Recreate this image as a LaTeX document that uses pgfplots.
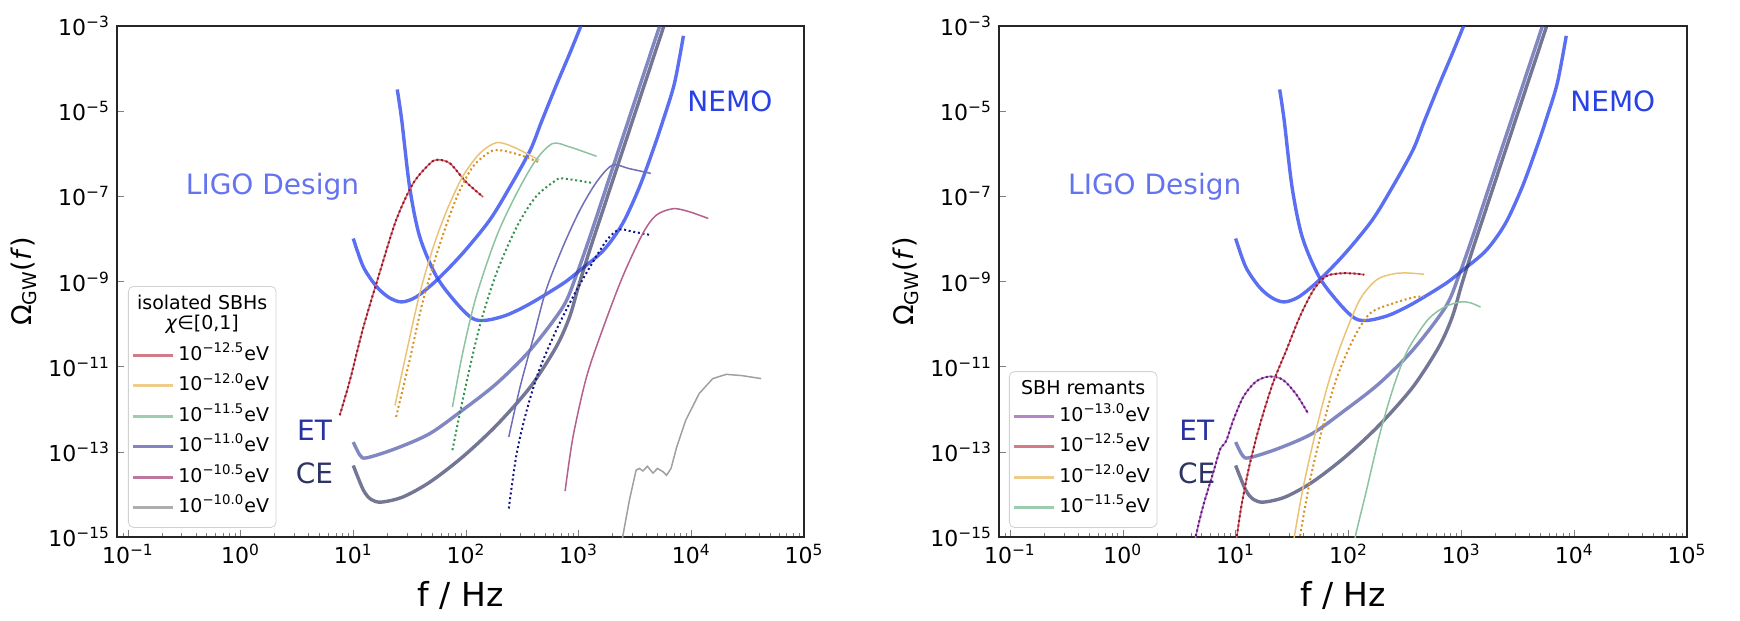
\documentclass[border=0pt]{standalone}
\usepackage{fontspec}
\setmainfont{DejaVu Sans}
\usepackage{pgfplots}
\usepackage{pgfplotstable}
\pgfplotsset{compat=1.18}
\newcommand{\tenp}[1]{10\textsuperscript{#1}}
\definecolor{ligo}{RGB}{50,75,240}
\definecolor{ligotext}{RGB}{100,115,240}
\definecolor{nemotext}{RGB}{40,65,230}
\definecolor{etline}{RGB}{60,70,160}
\definecolor{celine}{RGB}{40,45,90}
\definecolor{ettext}{RGB}{40,50,160}
\definecolor{cetext}{RGB}{45,52,100}
\definecolor{redsol}{RGB}{205,100,115}
\definecolor{reddot}{RGB}{160,20,35}
\definecolor{yelsol}{RGB}{235,195,120}
\definecolor{yeldot}{RGB}{215,145,30}
\definecolor{grnsol}{RGB}{140,195,160}
\definecolor{grndot}{RGB}{50,145,75}
\definecolor{blusol}{RGB}{110,110,185}
\definecolor{bludot}{RGB}{20,20,135}
\definecolor{mauve}{RGB}{180,95,140}
\definecolor{grayl}{RGB}{160,160,160}
\definecolor{pursol}{RGB}{170,110,190}
\definecolor{purdot}{RGB}{110,20,130}
\tikzset{
  ligoline/.style={draw=ligo, draw opacity=0.8, line width=1.7pt, smooth},
  etl/.style={draw=etline, draw opacity=0.65, line width=1.7pt, smooth},
  cel/.style={draw=celine, draw opacity=0.65, line width=1.7pt, smooth},
  sol/.style={draw=#1, line width=0.75pt, smooth},
  dotl/.style={draw=#1, line width=1pt, dash pattern=on 1pt off 1.35pt, smooth},
  legl/.style={draw=#1, line width=1.5pt},
}
\pgfplotstableread{
f O
10 1.023e-8
12.30 2.188e-9
16.22 7.413e-10
20.89 4.169e-10
26.92 3.311e-10
36.31 4.365e-10
54.95 1.072e-9
93.33 4.571e-9
162.2 2.754e-8
245.5 1.660e-7
371.5 1.202e-6
467.7 5.623e-6
631.0 3.981e-5
831.8 2.239e-4
1047 1e-3
1202 2.512e-3
}\tabLIGO
\pgfplotstableread{
f O
24.55 3.236e-5
26.92 6.166e-6
31.62 1.660e-7
38.90 1.122e-8
54.95 1.288e-9
83.18 3.020e-10
114.8 1.349e-10
151.4 1.230e-10
229.1 1.622e-10
371.5 3.020e-10
724.4 8.913e-10
1023 1.820e-9
1660 5.370e-9
2455 2.291e-8
3467 1.660e-7
4677 1.445e-6
5623 6.166e-6
7079 4.467e-5
8511 5.888e-4
}\tabNEMO
\pgfplotstableread{
f O
10 1.698e-13
11.48 8.318e-14
13.18 7.244e-14
23.99 1.202e-13
47.86 2.692e-13
93.33 9.550e-13
186.2 3.981e-12
371.5 2.455e-11
724.4 2.512e-10
955.0 1.413e-9
1259 1.122e-8
1585 7.079e-8
1995 4.467e-7
2512 2.818e-6
3162 1.778e-5
3981 1.122e-4
5012 7.079e-4
5754 2.138e-3
}\tabET
\pgfplotstableread{
f O
10 4.786e-14
12.30 1.259e-14
14.45 7.586e-15
17.78 6.607e-15
27.54 8.710e-15
47.86 1.950e-14
93.33 7.586e-14
186.2 4.169e-13
371.5 3.311e-12
631.0 2.884e-11
831.8 1.479e-10
1000 7.943e-10
1259 5.623e-9
1585 3.548e-8
1995 2.239e-7
2512 1.413e-6
3162 8.913e-6
3981 5.623e-5
5012 3.548e-4
6310 2.239e-3
}\tabCE
\begin{document}
\begin{tikzpicture}
\path[use as bounding box] (-58.5pt,-42pt) rectangle (811.5pt,268.5pt);
% ---------------- left panel ----------------
\begin{axis}[
    width=343.5pt, height=255.5pt, scale only axis,
    xmode=log, ymode=log, xmin=0.08, xmax=1e5, ymin=1e-15, ymax=1e-3,
    xtick={0.1,1,10,100,1000,10000,100000},
    xticklabels={\tenp{−1},\tenp{0},\tenp{1},\tenp{2},\tenp{3},\tenp{4},\tenp{5}},
    minor xtick={0.09,0.2,0.3,0.4,0.5,0.6,0.7,0.8,0.9,2,3,4,5,6,7,8,9,20,30,40,50,60,70,80,90,200,300,400,500,600,700,800,900,2000,3000,4000,5000,6000,7000,8000,9000,20000,30000,40000,50000,60000,70000,80000,90000},
    ytick={1e-15,1e-13,1e-11,1e-9,1e-7,1e-5,1e-3},
    yticklabels={\tenp{−15},\tenp{−13},\tenp{−11},\tenp{−9},\tenp{−7},\tenp{−5},\tenp{−3}},
    tick align=inside, xtick pos=left, ytick pos=left,
    major tick length=3.5pt, minor tick length=2pt,
    axis line style={black!85, line width=0.6pt},
    tick label style={font=\fontsize{11}{13}\selectfont},
    xlabel={f / Hz}, ylabel={Ω\textsubscript{GW}(\textit{f})},
    xlabel style={at={(axis description cs:0.5,-0.1135)}, anchor=center, font=\fontsize{16.5}{18}\selectfont},
    ylabel style={at={(axis description cs:-0.1354,0.5)}, anchor=center, font=\fontsize{13.5}{16}\selectfont},
    legend cell align=left,
    legend style={name=legL, at={(0.016,0.018)}, anchor=south west, draw=black!18, rounded corners=2.5pt, fill=white, font=\fontsize{9.5}{11.5}\selectfont, inner xsep=1.5pt, inner ysep=3pt, row sep=1.2pt, nodes={inner ysep=2pt, text height=7.5pt, text depth=2.5pt}},
  ]
\addlegendimage{empty legend}
\addlegendentry[text height=19.3pt, text depth=0pt]{}
\addlegendimage{legl=redsol!85, legend image code/.code={\draw (0pt,0pt) -- (20pt,0pt);}}\addlegendentry{\tenp{−12.5}eV}
\addlegendimage{legl=yelsol!85, legend image code/.code={\draw (0pt,0pt) -- (20pt,0pt);}}\addlegendentry{\tenp{−12.0}eV}
\addlegendimage{legl=grnsol!85, legend image code/.code={\draw (0pt,0pt) -- (20pt,0pt);}}\addlegendentry{\tenp{−11.5}eV}
\addlegendimage{legl=blusol!85, legend image code/.code={\draw (0pt,0pt) -- (20pt,0pt);}}\addlegendentry{\tenp{−11.0}eV}
\addlegendimage{legl=mauve!85, legend image code/.code={\draw (0pt,0pt) -- (20pt,0pt);}}\addlegendentry{\tenp{−10.5}eV}
\addlegendimage{legl=grayl!85, legend image code/.code={\draw (0pt,0pt) -- (20pt,0pt);}}\addlegendentry{\tenp{−10.0}eV}
\addplot[ligoline, forget plot] table {\tabLIGO};
\addplot[ligoline, forget plot] table {\tabNEMO};
\addplot[etl, forget plot] table {\tabET};
\addplot[cel, forget plot] table {\tabCE};
% 10^-12.5
\addplot[sol=redsol, forget plot] coordinates {(7.586,7.244e-13) (9.333,4.786e-12) (12.30,8.511e-11) (17.38,1.820e-9) (23.99,2.754e-8) (33.88,1.995e-7) (47.86,5.888e-7) (56.23,7.244e-7) (72.44,5.888e-7) (100,2.188e-7) (141.3,9.772e-8)};
\addplot[dotl=reddot, forget plot] coordinates {(7.586,7.244e-13) (9.333,4.786e-12) (12.30,8.511e-11) (17.38,1.820e-9) (23.99,2.754e-8) (33.88,1.995e-7) (47.86,5.888e-7) (56.23,7.244e-7) (72.44,5.888e-7) (100,2.188e-7) (141.3,9.772e-8)};
% 10^-12.0
\addplot[sol=yelsol, forget plot] coordinates {(23.44,1.230e-12) (29.51,2.042e-11) (38.90,5.248e-10) (51.29,6.457e-9) (67.61,4.677e-8) (93.33,2.884e-7) (131.8,1.0e-6) (186.2,1.820e-6) (263.0,1.445e-6) (446.7,7.079e-7)};
\addplot[dotl=yeldot, forget plot] coordinates {(23.99,6.607e-13) (31.62,1.413e-11) (41.69,3.631e-10) (58.88,7.762e-9) (83.18,9.772e-8) (114.8,4.898e-7) (162.2,1.096e-6) (204.2,1.202e-6) (302.0,9.333e-7) (436.5,6.457e-7)};
% 10^-11.5
\addplot[sol=grnsol, forget plot] coordinates {(75.86,1.122e-12) (93.33,2.042e-11) (123.0,4.365e-10) (186.2,1.122e-8) (281.8,1.175e-7) (416.9,7.079e-7) (588.8,1.738e-6) (831.8,1.445e-6) (1445,8.710e-7)};
\addplot[dotl=grndot, forget plot] coordinates {(75.86,1.096e-13) (93.33,1.622e-12) (131.8,8.511e-11) (186.2,1.549e-9) (281.8,1.905e-8) (416.9,9.772e-8) (631.0,2.399e-7) (724.4,2.630e-7) (1288,2.089e-7)};
% 10^-11.0
\addplot[sol=blusol, forget plot] coordinates {(239.9,2.239e-13) (302.0,3.311e-12) (398.1,5.012e-11) (512.9,6.166e-10) (724.4,6.457e-9) (1023,4.677e-8) (1445,2.188e-7) (1995,5.370e-7) (2818,4.467e-7) (4365,3.467e-7)};
\addplot[dotl=bludot, forget plot] coordinates {(239.9,4.677e-15) (281.8,9.120e-14) (346.7,9.550e-13) (446.7,8.318e-12) (631.0,7.079e-11) (891.3,4.365e-10) (1259,2.188e-9) (1778,9.333e-9) (2291,1.660e-8) (3020,1.479e-8) (4365,1.230e-8)};
% 10^-10.5
\addplot[sol=mauve, forget plot] coordinates {(758.6,1.202e-14) (891.3,2.239e-13) (1175,5.754e-12) (1660,8.511e-11) (2455,1.288e-9) (3715,1.349e-8) (4898,3.631e-8) (6918,5.129e-8) (9550,4.365e-8) (14130,3.020e-8)};
% 10^-10.0
\addplot[draw=grayl, line width=0.75pt, forget plot] coordinates {(2344,5.012e-16) (2818,7.244e-15) (3236,3.715e-14) (3467,4.074e-14) (3715,3.548e-14) (4074,4.571e-14) (4571,3.162e-14) (5012,4.074e-14) (5623,3.388e-14) (6026,2.818e-14) (6607,4.074e-14) (7413,1.288e-13) (8913,5.495e-13) (11750,2.344e-12) (15490,5.248e-12) (20420,6.607e-12) (28180,6.166e-12) (41690,5.248e-12)};
\node[text=ligotext, font=\fontsize{14}{16}\selectfont] at (axis cs:1.92,1.7e-7) {LIGO Design};
\node[text=nemotext, font=\fontsize{14}{16}\selectfont] at (axis cs:2.2e4,1.74e-5) {NEMO};
\node[text=ettext, font=\fontsize{14}{16}\selectfont] at (axis cs:4.53,3.24e-13) {ET};
\node[text=cetext, font=\fontsize{14}{16}\selectfont] at (axis cs:4.53,3.16e-14) {CE};
\end{axis}
\node[font=\fontsize{9.5}{11.5}\selectfont, inner sep=0pt] at ([yshift=-8.2pt]legL.north) {isolated SBHs};
\node[font=\fontsize{9.5}{11.5}\selectfont, inner sep=0pt] at ([yshift=-19pt]legL.north) {\textit{χ}∈[0,1]};
% ---------------- right panel ----------------
\begin{axis}[
    at={(441pt,0pt)}, anchor=south west,
    width=344pt, height=255.5pt, scale only axis,
    xmode=log, ymode=log, xmin=0.08, xmax=1e5, ymin=1e-15, ymax=1e-3,
    xtick={0.1,1,10,100,1000,10000,100000},
    xticklabels={\tenp{−1},\tenp{0},\tenp{1},\tenp{2},\tenp{3},\tenp{4},\tenp{5}},
    minor xtick={0.09,0.2,0.3,0.4,0.5,0.6,0.7,0.8,0.9,2,3,4,5,6,7,8,9,20,30,40,50,60,70,80,90,200,300,400,500,600,700,800,900,2000,3000,4000,5000,6000,7000,8000,9000,20000,30000,40000,50000,60000,70000,80000,90000},
    ytick={1e-15,1e-13,1e-11,1e-9,1e-7,1e-5,1e-3},
    yticklabels={\tenp{−15},\tenp{−13},\tenp{−11},\tenp{−9},\tenp{−7},\tenp{−5},\tenp{−3}},
    tick align=inside, xtick pos=left, ytick pos=left,
    major tick length=3.5pt, minor tick length=2pt,
    axis line style={black!85, line width=0.6pt},
    tick label style={font=\fontsize{11}{13}\selectfont},
    xlabel={f / Hz}, ylabel={Ω\textsubscript{GW}(\textit{f})},
    xlabel style={at={(axis description cs:0.5,-0.1135)}, anchor=center, font=\fontsize{16.5}{18}\selectfont},
    ylabel style={at={(axis description cs:-0.1354,0.5)}, anchor=center, font=\fontsize{13.5}{16}\selectfont},
    legend cell align=left,
    legend style={name=legR, at={(0.0145,0.018)}, anchor=south west, draw=black!18, rounded corners=2.5pt, fill=white, font=\fontsize{9.5}{11.5}\selectfont, inner xsep=1.5pt, inner ysep=3pt, row sep=1.2pt, nodes={inner ysep=2pt, text height=7.5pt, text depth=2.5pt}},
  ]
\addlegendimage{empty legend}
\addlegendentry[text height=7.1pt, text depth=0pt]{}
\addlegendimage{legl=pursol!85, legend image code/.code={\draw (0pt,0pt) -- (20pt,0pt);}}\addlegendentry{\tenp{−13.0}eV}
\addlegendimage{legl=redsol!85, legend image code/.code={\draw (0pt,0pt) -- (20pt,0pt);}}\addlegendentry{\tenp{−12.5}eV}
\addlegendimage{legl=yelsol!85, legend image code/.code={\draw (0pt,0pt) -- (20pt,0pt);}}\addlegendentry{\tenp{−12.0}eV}
\addlegendimage{legl=grnsol!85, legend image code/.code={\draw (0pt,0pt) -- (20pt,0pt);}}\addlegendentry{\tenp{−11.5}eV}
\addplot[ligoline, forget plot] table {\tabLIGO};
\addplot[ligoline, forget plot] table {\tabNEMO};
\addplot[etl, forget plot] table {\tabET};
\addplot[cel, forget plot] table {\tabCE};
% 10^-13.0
\addplot[sol=pursol, forget plot] coordinates {(4.169,5.012e-16) (4.416,1e-15) (5.129,5.129e-15) (6.310,3.162e-14) (7.244,1.096e-13) (7.762,1.445e-13) (8.318,1.905e-13) (9.550,5.623e-13) (11.75,1.995e-12) (15.14,4.467e-12) (19.95,5.888e-12) (26.30,4.898e-12) (34.67,2.188e-12) (43.65,8.128e-13)};
\addplot[dotl=purdot, forget plot] coordinates {(4.169,5.012e-16) (4.416,1e-15) (5.129,5.129e-15) (6.310,3.162e-14) (7.244,1.096e-13) (7.762,1.445e-13) (8.318,1.905e-13) (9.550,5.623e-13) (11.75,1.995e-12) (15.14,4.467e-12) (19.95,5.888e-12) (26.30,4.898e-12) (34.67,2.188e-12) (43.65,8.128e-13)};
% 10^-12.5
\addplot[sol=redsol, forget plot] coordinates {(9.772,5.012e-16) (10.23,1e-15) (11.22,5.129e-15) (13.18,4.467e-14) (16.22,3.890e-13) (21.38,4.074e-12) (28.18,2.455e-11) (37.15,1.514e-10) (48.98,6.310e-10) (63.10,1.318e-9) (83.18,1.549e-9) (109.6,1.549e-9) (138.0,1.445e-9)};
\addplot[dotl=reddot, forget plot] coordinates {(9.772,5.012e-16) (10.23,1e-15) (11.22,5.129e-15) (13.18,4.467e-14) (16.22,3.890e-13) (21.38,4.074e-12) (28.18,2.455e-11) (37.15,1.514e-10) (48.98,6.310e-10) (63.10,1.318e-9) (83.18,1.549e-9) (109.6,1.549e-9) (138.0,1.445e-9)};
% 10^-12.0
\addplot[sol=yelsol, forget plot] coordinates {(32.36,5.012e-16) (33.11,1e-15) (39.81,1.514e-14) (52.48,3.890e-13) (67.61,4.898e-12) (89.13,4.266e-11) (125.9,3.715e-10) (177.8,1.096e-9) (251.2,1.514e-9) (331.1,1.585e-9) (467.7,1.479e-9)};
\addplot[dotl=yeldot, forget plot] coordinates {(36.31,5.012e-16) (37.15,1e-15) (45.71,2.188e-14) (60.26,4.677e-13) (77.62,4.898e-12) (109.6,4.266e-11) (154.9,1.778e-10) (251.2,3.090e-10) (380.2,4.266e-10) (467.7,4.467e-10)};
% 10^-11.5
\addplot[sol=grnsol, forget plot] coordinates {(112.2,5.012e-16) (114.8,1e-15) (144.5,1.259e-14) (190.5,2.754e-13) (251.2,3.388e-12) (323.6,2.042e-11) (416.9,6.310e-11) (524.8,1.413e-10) (707.9,2.512e-10) (977.2,3.311e-10) (1202,3.162e-10) (1479,2.512e-10)};
\node[text=ligotext, font=\fontsize{14}{16}\selectfont] at (axis cs:1.92,1.7e-7) {LIGO Design};
\node[text=nemotext, font=\fontsize{14}{16}\selectfont] at (axis cs:2.2e4,1.74e-5) {NEMO};
\node[text=ettext, font=\fontsize{14}{16}\selectfont] at (axis cs:4.53,3.24e-13) {ET};
\node[text=cetext, font=\fontsize{14}{16}\selectfont] at (axis cs:4.53,3.16e-14) {CE};
\end{axis}
\node[font=\fontsize{9.5}{11.5}\selectfont, inner sep=0pt] at ([yshift=-8.2pt]legR.north) {SBH remants};
\end{tikzpicture}
\end{document}
